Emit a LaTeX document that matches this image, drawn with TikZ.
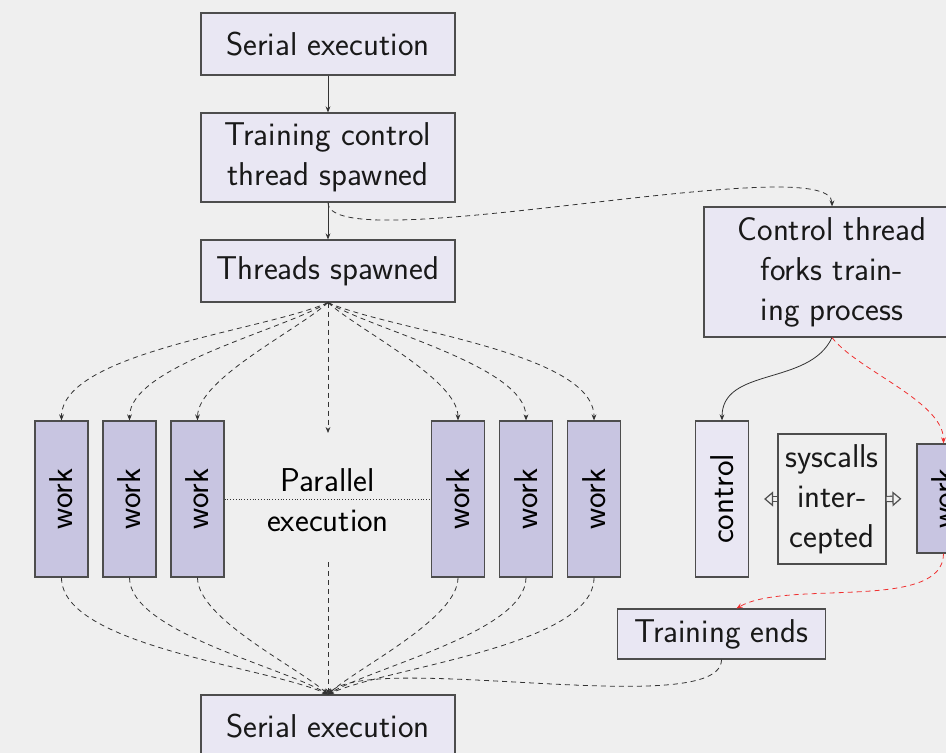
\documentclass[tikz,border=0pt]{standalone}
\usepackage{fontspec}
\usepackage{graphicx}
\usetikzlibrary{positioning,arrows.meta}

\definecolor{pagebg}{HTML}{EFEFEF}
\definecolor{boxfill}{HTML}{E9E7F3}
\definecolor{workfill}{HTML}{C8C5E1}
\definecolor{boxline}{HTML}{4D4D4D}
\definecolor{linecol}{HTML}{333333}
\definecolor{forkred}{HTML}{F03030}

\begin{document}
\begin{tikzpicture}[
  x=0.5pt, y=0.5pt,
  font=\sffamily\fontsize{16.5}{20}\selectfont,
  box/.style={rectangle, draw=boxline, line width=0.6pt, fill=boxfill,
              minimum width=127pt, minimum height=31pt, inner sep=2pt,
              text centered, align=center, text=black!90},
  work/.style={rectangle, draw=boxline, line width=0.6pt, fill=workfill,
               minimum width=26.5pt, minimum height=78pt, inner sep=0pt},
  arr/.style={->, >={Stealth[length=3pt, width=2.4pt]}, line width=0.4pt,
              draw=linecol},
  flow/.style={arr, dash pattern=on 2.5pt off 2pt},
  redflow/.style={flow, draw=forkred},
  dbl/.style={draw=boxline, line width=0.6pt, double=pagebg,
              double distance=2pt,
              -{Triangle[open, length=4.5pt, width=7.5pt, fill=pagebg]},
              shorten >=7.5pt}
]

\useasboundingbox (0,0) rectangle (946,-753);
\fill[pagebg] (0,0) rectangle (946,-753);

% main column
\node[box] (serial) at (328,-44) {Serial execution};
\node[box, minimum height=44.5pt] (ctrl) at (328,-157.5)
  {Training control\\thread spawned};
\node[box] (threads) at (328,-271) {Threads spawned};
\node[box] (serialend) at (328,-726) {Serial execution};

% worker threads
\foreach \n/\x in {1/61.5, 2/129.5, 3/197.5, 4/458, 5/526, 6/594}
  \node[work] (w\n) at (\x,-499) {\rotatebox{90}{work}};
\node[align=center] (par) at (328,-500) {Parallel\\execution};
\coordinate (ptop) at (328,-433);
\coordinate (pbot) at (328,-562);

% forked training process
\node[box, minimum width=128pt, minimum height=65pt] (fork) at (832,-272)
  {Control thread\\forks train-\\ing process};
\node[work, fill=boxfill] (ctl) at (722,-499) {\rotatebox{90}{control}};
\node[box, fill=none, minimum width=54pt, minimum height=65pt] (sys)
  at (832,-499) {syscalls\\inter-\\cepted};
\node[work, minimum height=54.5pt] (wfork) at (943.5,-498.5)
  {\rotatebox{90}{work}};
\node[box, minimum width=104pt, minimum height=25pt] (ends)
  at (721.5,-634) {Training ends};

\draw[arr] (serial) -- (ctrl);
\draw[arr] (ctrl) -- (threads);
\draw[flow] (ctrl.south) to[out=-90, in=90, looseness=0.3] (fork.north);

\foreach \n/\a in {1/-156, 2/-149, 3/-138, 4/-42, 5/-31, 6/-24}
  \draw[flow] (threads.south) to[out=\a, in=90, looseness=0.6] (w\n.north);
\draw[flow] (threads.south) -- (ptop);
\draw[densely dotted, line width=0.4pt, draw=linecol] (w3.east) -- (w4.west);

\foreach \n/\a in {1/156, 2/149, 3/138, 4/42, 5/31, 6/24}
  \draw[flow] (w\n.south) to[out=-90, in=\a, looseness=0.6] (serialend.north);
\draw[flow] (pbot) -- (serialend.north);

\draw[arr] (fork.south) to[out=-115, in=90] (ctl.north);
\draw[redflow] (fork.south) to[out=-52, in=90, looseness=0.7] (wfork.north);
\draw[dbl] (sys.west) -- (ctl.east);
\draw[dbl] (sys.east) -- (wfork.west);
\draw[redflow] (wfork.south) to[out=-90, in=30, looseness=0.7]
  ([xshift=7.5pt]ends.north);
\draw[flow] (ends.south) to[out=-90, in=45, looseness=0.4] (serialend.north);

\end{tikzpicture}
\end{document}
